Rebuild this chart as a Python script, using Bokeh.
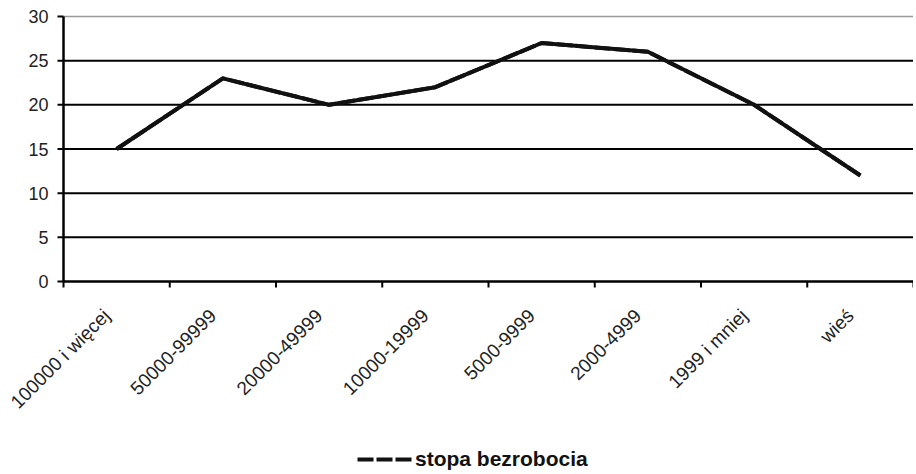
from bokeh.plotting import figure
from bokeh.models import Range1d, Legend, LegendItem, ColumnDataSource
from bokeh.core.properties import value
from bokeh.embed import file_html
from bokeh.resources import INLINE
import math

categories = ["100000 i więcej", "50000-99999", "20000-49999", "10000-19999",
              "5000-9999", "2000-4999", "1999 i mniej", "wieś"]
stopa_bezrobocia = [15, 23, 20, 22, 27, 26, 20, 12]
y_ticks = [0, 5, 10, 15, 20, 25, 30]
series_name = "stopa bezrobocia"

n = len(categories)
xs = [i + 0.5 for i in range(n)]
bounds = list(range(n + 1))

# layout geometry (pixels)
W, H = 913, 472
LEFT, TOP = 63, 16          # where the value band starts
BAND_W, BAND_H = 850, 265   # size of the value band
y0, y1 = y_ticks[0], y_ticks[-1]
ux = n / BAND_W
uy = (y1 - y0) / BAND_H
x_range = Range1d(-LEFT * ux, (W - LEFT) * ux)
y_range = Range1d(y1 - (H - TOP) * uy, y1 + TOP * uy)

p = figure(width=W, height=H, output_backend="svg", toolbar_location=None,
           x_range=x_range, y_range=y_range,
           x_axis_location=None, y_axis_location=None,
           min_border=0)
p.outline_line_color = None
p.grid.visible = False
p.background_fill_color = "white"
p.border_fill_color = "white"

FONT = "Liberation Sans"
INK = "#111111"

# horizontal grid lines
inner = y_ticks[1:-1]
p.segment(x0=[0] * len(inner), x1=[n] * len(inner), y0=inner, y1=inner,
          line_color="black", line_width=2)
p.segment(x0=[0], x1=[n], y0=[y1], y1=[y1], line_color="#9a9a9a", line_width=1.5)

# axes lines
p.segment(x0=[0], x1=[n], y0=[y0], y1=[y0], line_color="black", line_width=2.5)
p.segment(x0=[0], x1=[0], y0=[y0], y1=[y1], line_color="black", line_width=2.5)

# y ticks + labels
p.ray(x=[0] * len(y_ticks), y=y_ticks, length=6, length_units="screen",
      angle=math.pi, line_color="black", line_width=2)
p.text(x=[0] * len(y_ticks), y=y_ticks, text=[str(t) for t in y_ticks],
       text_align="right", text_baseline="middle", x_offset=-15,
       text_font=value(FONT), text_font_size="18px", text_color="#222222")

# category boundary ticks + labels
p.ray(x=bounds, y=[y0] * len(bounds), length=6, length_units="screen",
      angle=-math.pi / 2, line_color="black", line_width=2)
p.text(x=xs, y=[y0] * n, text=categories, angle=math.pi / 4,
       text_align="right", text_baseline="middle", x_offset=-10, y_offset=31,
       text_font=value(FONT), text_font_size="19px", text_color="#222222")

# series
src = ColumnDataSource(dict(x=xs, y=stopa_bezrobocia))
leg_r = p.line("x", "y", source=src, line_color=INK, line_width=4, line_dash="16 3")
p.line("x", "y", source=src, line_color=INK, line_width=4, line_join="round")

legend = Legend(items=[LegendItem(label=series_name, renderers=[leg_r])],
                location=(357, 1), orientation="horizontal",
                label_text_font=FONT, label_text_font_size="21px",
                label_text_font_style="bold", label_text_color=INK,
                glyph_width=56, glyph_height=20, label_standoff=2, label_height=20,
                border_line_color=None, background_fill_alpha=0,
                padding=0, margin=0)
p.add_layout(legend, "center")

open("out.html", "w").write(file_html(p, INLINE))
